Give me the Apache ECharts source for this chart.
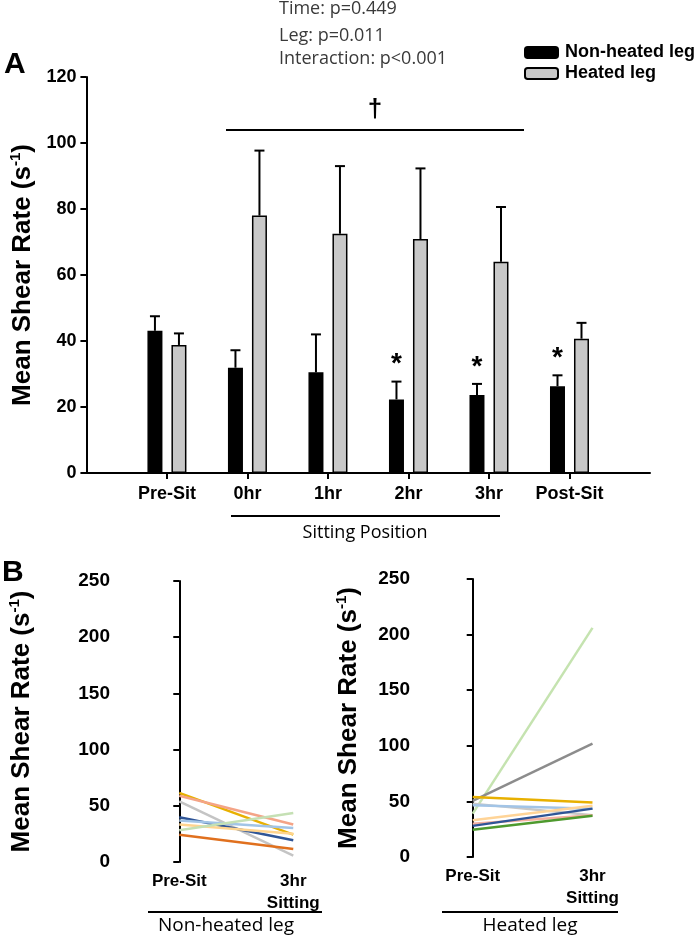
<!DOCTYPE html>
<html>
<head>
<meta charset="utf-8">
<script src="https://cdn.jsdelivr.net/npm/echarts@6/dist/echarts.min.js"></script>
<style>
  html, body {margin: 0; padding: 0; background: #fff;}
  #chart {width: 700px; height: 935px;}
</style>
</head>
<body>
<div id="chart"></div>
<script>
// Panel A data
const timePoints = ['Pre-Sit', '0hr', '1hr', '2hr', '3hr', 'Post-Sit'];
const nonHeatedMean = [43.1, 31.9, 30.5, 22.3, 23.6, 26.3];
const nonHeatedErr = [4.4, 5.3, 11.5, 5.4, 3.4, 3.3];
const heatedMean = [38.8, 78.0, 72.5, 70.9, 64.0, 40.7];
const heatedErr = [3.5, 19.7, 20.5, 21.4, 16.6, 4.8];
const nonHeatedSig = [0, 0, 0, 1, 1, 1];   // * vs Pre-Sit
const yTicksA = {min: 0, max: 120, interval: 20};

// Panel B data, one line per subject
const phaseLabels = ['Pre-Sit', '3hr\nSitting'];
const nonHeatedPre = [61.5, 59.0, 54.0, 39.8, 37.0, 33.3, 28.2, 24.3];
const nonHeatedPost = [24.3, 33.3, 5.6, 19.3, 30.3, 25.2, 43.6, 11.6];
const heatedPre = [39.0, 50.4, 54.0, 48.0, 46.5, 33.0, 30.0, 28.0, 24.6];
const heatedPost = [206.0, 102.0, 49.0, 37.5, 43.5, 46.0, 37.5, 43.5, 37.0];
const yTicksB = {min: 0, max: 250, interval: 50};

const nonHeatedColors = ['#e8b000', '#f4a487', '#c4c4c4', '#2f5597', '#a2c4e6', '#ffd48f', '#c5e0b4', '#e0701e'];
const heatedColors = ['#c5e3b0', '#8c8c8c', '#e8b000', '#c8c8c8', '#a2c4e6', '#ffd497', '#f4b0a0', '#2f5597', '#4e9a2e'];

const BAR_W = 15;
const BAR_OFF = 12;
const ARIAL = "'Liberation Sans', Arial, sans-serif";
const CALIBRI = "'Open Sans', 'Lato', sans-serif";

const chart = echarts.init(document.getElementById('chart'));

// pad an empty category on each side so the bars sit on ticks
const catsA = [''].concat(timePoints, ['']);
const pad = (arr) => ['-'].concat(arr, ['-']);

const errData = (mean, err, sig) => mean.map((m, i) => [i + 1, m, err[i], sig ? sig[i] : 0]);

const errorRenderer = (offset) => (params, api) => {
    const idx = api.value(0);
    const m = api.value(1);
    const e = api.value(2);
    const base = api.coord([idx, m]);
    const top = api.coord([idx, m + e]);
    const cx = base[0] + offset;
    const style = {stroke: '#000', lineWidth: 2};
    const children = [
        {type: 'line', shape: {x1: cx, y1: base[1], x2: cx, y2: top[1]}, style: style},
        {type: 'line', shape: {x1: cx - 5, y1: top[1], x2: cx + 5, y2: top[1]}, style: style},
    ];
    if (api.value(3)) {
        children.push({
            type: 'text',
            x: cx, y: top[1] - 17,
            style: {text: '*', fill: '#000', font: "bold 28px " + ARIAL, align: 'center', verticalAlign: 'middle'}
        });
    }
    return {type: 'group', children: children};
};

const yName = 'Mean Shear Rate (s{sup|-1})';
const nameStyle = {
    fontFamily: ARIAL, fontWeight: 'bold', fontSize: 26, color: '#000',
    rich: {sup: {fontFamily: ARIAL, fontWeight: 'bold', fontSize: 15, color: '#000', verticalAlign: 'top', lineHeight: 29}}
};

const valueAxisB = (gridIndex, nameGap) => ({
    type: 'value', gridIndex: gridIndex,
    min: yTicksB.min, max: yTicksB.max, interval: yTicksB.interval,
    name: yName, nameLocation: 'middle', nameGap: nameGap, nameTextStyle: nameStyle,
    axisLine: {show: true, lineStyle: {color: '#000', width: 2}},
    axisTick: {show: true, length: 6, lineStyle: {color: '#000', width: 2}},
    axisLabel: {fontFamily: ARIAL, fontWeight: 'bold', fontSize: 19, color: '#000', margin: 10},
    splitLine: {show: false},
});

const phaseAxis = (gridIndex, min) => ({
    type: 'value', gridIndex: gridIndex,
    min: min, max: 1.48, interval: 0.04,
    axisLine: {show: false}, axisTick: {show: false}, splitLine: {show: false},
    axisLabel: {
        fontFamily: ARIAL, fontWeight: 'bold', fontSize: 17, color: '#000', margin: 8, lineHeight: 22,
        showMinLabel: false, showMaxLabel: false,
        formatter: (v) => {
            if (Math.abs(v) < 1e-6) return phaseLabels[0];
            if (Math.abs(v - 1) < 1e-6) return phaseLabels[1];
            return '';
        }
    },
});

const subjectLines = (pre, post, colors, axisIndex) => pre.map((p, i) => ({
    type: 'line', xAxisIndex: axisIndex, yAxisIndex: axisIndex,
    data: [[0, p], [1, post[i]]],
    symbol: 'none', silent: true,
    lineStyle: {color: colors[i], width: 2.5},
    itemStyle: {color: colors[i]},
}));

const textEl = (text, x, y, font, extra) => ({
    type: 'text', x: x, y: y,
    style: Object.assign({text: text, fill: '#000', font: font}, extra || {})
});

const option = {
    animation: false,
    backgroundColor: '#fff',
    grid: [
        {left: 82, top: 77, width: 568, height: 396},
        {left: 120, top: 581, width: 228, height: 281},
        {left: 420, top: 579, width: 230, height: 278},
    ],
    legend: {
        data: ['Non-heated leg', 'Heated leg'],
        orient: 'vertical',
        left: 519, top: 37,
        itemWidth: 33, itemHeight: 11, itemGap: 0,
        textStyle: {fontFamily: ARIAL, fontWeight: 'bold', fontSize: 18, lineHeight: 21, color: '#000', padding: [0, 0, 0, 2]},
    },
    xAxis: [
        {
            type: 'category', gridIndex: 0, data: catsA, boundaryGap: false,
            axisLine: {lineStyle: {color: '#000', width: 2}},
            axisTick: {show: true, length: 6, interval: (i) => i > 0 && i < catsA.length - 1, lineStyle: {color: '#000', width: 2}},
            axisLabel: {fontFamily: ARIAL, fontWeight: 'bold', fontSize: 18, color: '#000', margin: 12, interval: 0},
        },
        phaseAxis(1, -0.52),
        phaseAxis(2, -0.44),
    ],
    yAxis: [
        {
            type: 'value', gridIndex: 0,
            min: yTicksA.min, max: yTicksA.max, interval: yTicksA.interval,
            name: yName, nameLocation: 'middle', nameGap: 46, nameTextStyle: nameStyle,
            axisLine: {show: true, lineStyle: {color: '#000', width: 2}},
            axisTick: {show: true, length: 6, lineStyle: {color: '#000', width: 2}},
            axisLabel: {fontFamily: ARIAL, fontWeight: 'bold', fontSize: 18, color: '#000', margin: 10},
            splitLine: {show: false},
        },
        valueAxisB(1, 84),
        valueAxisB(2, 57),
    ],
    series: [
        {
            name: 'Non-heated leg', type: 'bar', xAxisIndex: 0, yAxisIndex: 0,
            data: pad(nonHeatedMean), barWidth: BAR_W, barGap: '60%',
            itemStyle: {color: '#000', borderColor: '#000', borderWidth: 1.5},
        },
        {
            name: 'Heated leg', type: 'bar', xAxisIndex: 0, yAxisIndex: 0,
            data: pad(heatedMean), barWidth: BAR_W, barGap: '60%',
            itemStyle: {color: '#c8c8c8', borderColor: '#000', borderWidth: 1.5},
        },
        {
            type: 'custom', xAxisIndex: 0, yAxisIndex: 0, silent: true, z: 3,
            data: errData(nonHeatedMean, nonHeatedErr, nonHeatedSig),
            renderItem: errorRenderer(-BAR_OFF),
        },
        {
            type: 'custom', xAxisIndex: 0, yAxisIndex: 0, silent: true, z: 3,
            data: errData(heatedMean, heatedErr, null),
            renderItem: errorRenderer(BAR_OFF),
        },
    ].concat(
        subjectLines(nonHeatedPre, nonHeatedPost, nonHeatedColors, 1),
        subjectLines(heatedPre, heatedPost, heatedColors, 2)
    ),
    graphic: [
        textEl('A', 4, 50, "bold 30px " + ARIAL),
        textEl('B', 2, 558, "bold 30px " + ARIAL),
        textEl('Time: p=0.449', 279, 0, "18px " + CALIBRI, {fill: '#3a3a3a'}),
        textEl('Leg: p=0.011', 279, 27, "18px " + CALIBRI, {fill: '#3a3a3a'}),
        textEl('Interaction: p<0.001', 279, 50, "18px " + CALIBRI, {fill: '#3a3a3a'}),
        // sitting-period comparison vs Pre-Sit
        textEl('\u2020', 375, 110, "bold 26px " + ARIAL, {align: 'center', verticalAlign: 'middle'}),
        {type: 'line', shape: {x1: 226, y1: 130, x2: 524, y2: 130}, style: {stroke: '#000', lineWidth: 2}},
        // sitting position bracket
        {type: 'line', shape: {x1: 231, y1: 516, x2: 500, y2: 516}, style: {stroke: '#000', lineWidth: 2}},
        textEl('Sitting Position', 365, 533, "18px " + CALIBRI, {align: 'center', verticalAlign: 'middle'}),
        // panel B leg labels
        {type: 'line', shape: {x1: 148, y1: 912, x2: 322, y2: 912}, style: {stroke: '#000', lineWidth: 2}},
        textEl('Non-heated leg', 226, 926, "19px " + CALIBRI, {align: 'center', verticalAlign: 'middle'}),
        {type: 'line', shape: {x1: 442, y1: 912, x2: 618, y2: 912}, style: {stroke: '#000', lineWidth: 2}},
        textEl('Heated leg', 530, 926, "19px " + CALIBRI, {align: 'center', verticalAlign: 'middle'}),
    ],
};

chart.setOption(option);
</script>
</body>
</html>
